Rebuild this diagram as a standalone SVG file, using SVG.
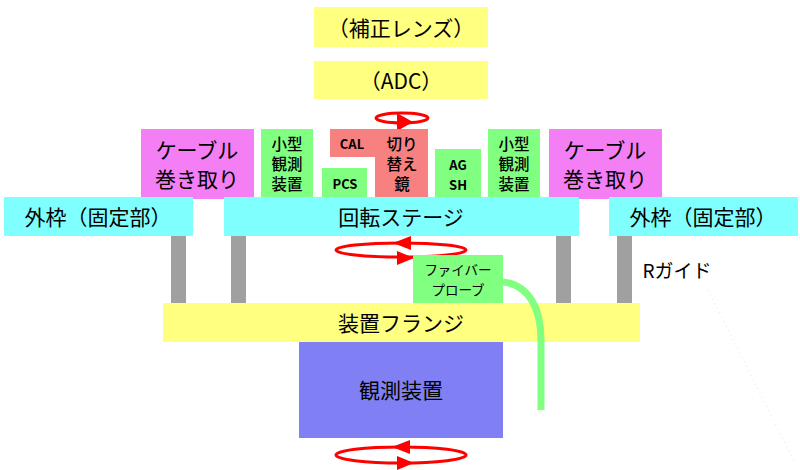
<svg xmlns="http://www.w3.org/2000/svg" width="800" height="470" viewBox="0 0 800 470">
<style>
text{font-family:"Noto Sans CJK JP","Noto Sans",sans-serif;fill:#000;text-anchor:middle;dominant-baseline:central}
.yel{fill:#ffff80}.pink{fill:#f47ff4}.grn{fill:#80ff80}.red{fill:#f78080}.cyan{fill:#80ffff}.gray{fill:#a0a0a0}.blue{fill:#8080f4}
.l{font-size:21px}.m{font-size:15.5px;font-weight:500}.s{font-size:13px;font-weight:bold}.f{font-size:13.5px}
.rot{fill:none;stroke:#ff0000;stroke-width:3}
.ah{fill:#ff0000}
</style>
<g id="guides">
<rect class="gray" x="171" y="235" width="15" height="69"/>
<rect class="gray" x="231" y="235" width="15" height="69"/>
<rect class="gray" x="556" y="235" width="15" height="69"/>
<rect class="gray" x="617" y="235" width="15" height="69"/>
<line x1="708" y1="290" x2="795" y2="463" stroke="#e4e4e4" stroke-width="1" stroke-dasharray="1,4"/>
</g>
<g id="hosei"><rect class="yel" x="314" y="7" width="174" height="40"/><text class="l" x="401" y="27">（補正レンズ）</text></g>
<g id="adc"><rect class="yel" x="314" y="61" width="174" height="38"/><text class="l" x="401" y="80">（ADC）</text></g>
<g id="rot-top">
<ellipse class="rot" cx="402" cy="118" rx="26" ry="5"/>
<polygon class="ah" points="397,113 413,122 397,131"/>
</g>
<g id="cable-l"><rect class="pink" x="141" y="129" width="113" height="70"/><text class="l" x="197" y="149">ケーブル</text><text class="l" x="197" y="178">巻き取り</text></g>
<g id="small-l"><rect class="grn" x="261" y="129" width="52" height="70"/><text class="m" x="287" y="143">小型</text><text class="m" x="287" y="163">観測</text><text class="m" x="287" y="183">装置</text></g>
<g id="cal"><polygon class="red" points="330,129 428,129 428,199 375,199 375,157 330,157"/><text class="s" x="352" y="143">CAL</text><text class="m" x="402" y="143">切り</text><text class="m" x="402" y="163">替え</text><text class="m" x="402" y="183">鏡</text></g>
<g id="pcs"><rect class="grn" x="322" y="168" width="45" height="31"/><text class="s" x="345" y="183">PCS</text></g>
<g id="agsh"><rect class="grn" x="435" y="149" width="46" height="50"/><text class="s" x="458" y="164">AG</text><text class="s" x="458" y="184">SH</text></g>
<g id="small-r"><rect class="grn" x="488" y="129" width="52" height="70"/><text class="m" x="514" y="143">小型</text><text class="m" x="514" y="163">観測</text><text class="m" x="514" y="183">装置</text></g>
<g id="cable-r"><rect class="pink" x="549" y="129" width="113" height="70"/><text class="l" x="605" y="149">ケーブル</text><text class="l" x="605" y="178">巻き取り</text></g>
<g id="outer-l"><rect class="cyan" x="4" y="197" width="189" height="39"/><text class="l" x="98" y="216">外枠（固定部）</text></g>
<g id="stage"><rect class="cyan" x="224" y="197" width="355" height="39"/><text class="l" x="401" y="216">回転ステージ</text></g>
<g id="outer-r"><rect class="cyan" x="609" y="197" width="189" height="39"/><text class="l" x="703" y="216">外枠（固定部）</text></g>
<g id="rot-mid">
<ellipse class="rot" cx="401" cy="250" rx="65" ry="7"/>
<polygon class="ah" points="393,243 411,236 411,250"/>
<polygon class="ah" points="397,251 414,258 397,265"/>
</g>
<g id="fiber"><rect class="grn" x="413" y="255" width="90" height="48"/><text class="f" x="458" y="269">ファイバー</text><text class="f" x="458" y="289">プローブ</text></g>
<g id="flange"><rect class="yel" x="163" y="303" width="477" height="39"/><text class="l" x="401" y="322">装置フランジ</text></g>
<g id="connectors">
<path d="M503,282 C530,285 541,310 541,340 L541,410" fill="none" stroke="#80ff80" stroke-width="7"/>
</g>
<g id="device"><rect class="blue" x="299" y="342" width="204" height="96"/><text class="l" x="401" y="389">観測装置</text></g>
<g id="rot-bot">
<ellipse class="rot" cx="401" cy="455" rx="65" ry="8"/>
<polygon class="ah" points="392,447 410,440 410,454"/>
<polygon class="ah" points="397,456 414,463 397,470"/>
</g>
<g id="rguide"><text class="l" x="677" y="269" style="font-size:19px">Rガイド</text></g>
</svg>
